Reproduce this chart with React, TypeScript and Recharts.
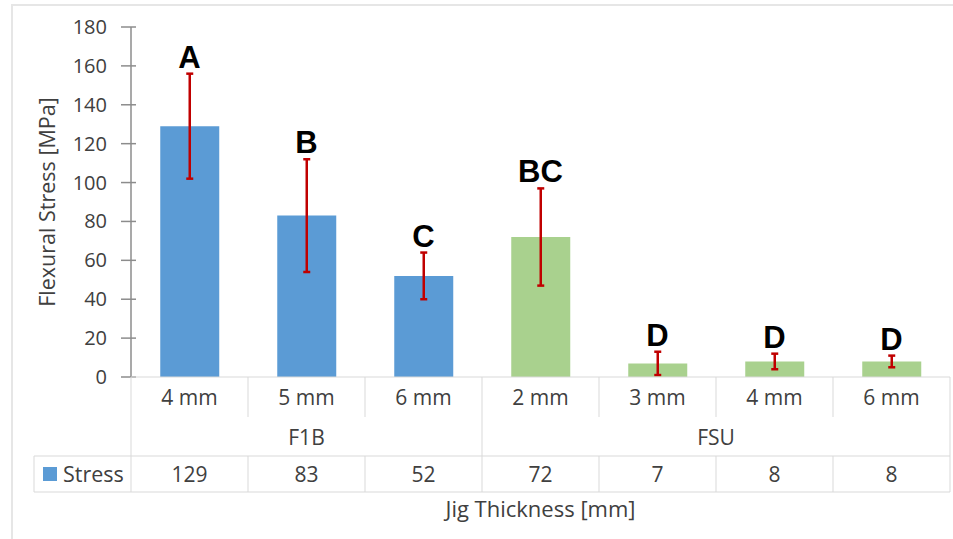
import { ComposedChart, Bar, Cell, Line, XAxis, YAxis, ErrorBar, LabelList } from 'recharts'

const thickness = ['4 mm', '5 mm', '6 mm', '2 mm', '3 mm', '4 mm', '6 mm']
const groups = ['F1B', 'F1B', 'F1B', 'FSU', 'FSU', 'FSU', 'FSU']
const stress = [129, 83, 52, 72, 7, 8, 8]
const stressSd = [27, 29, 12, 25, 6, 4, 3]
const letters = ['A', 'B', 'C', 'BC', 'D', 'D', 'D']
const yTicks = [0, 20, 40, 60, 80, 100, 120, 140, 160, 180]

const groupColors: Record<string, string> = { F1B: '#5B9BD5', FSU: '#A9D18E' }

const W = 953
const H = 539
const AXIS_W = 131
const RIGHT = 3
const COL = (W - AXIS_W - RIGHT) / thickness.length
const CAT_H = 40
const GRP_H = 39
const VAL_H = 36
const GRID = '#D9D9D9'
const TEXT = '#404040'
const FONT = '"Open Sans", sans-serif'

const data = thickness.map((t, i) => ({
  thick: t,
  group: groups[i],
  stress: stress[i],
  sd: stressSd[i],
  top: stress[i] + stressSd[i],
  letter: letters[i],
}))

function YTick({ x, y, payload }: any) {
  return (
    <g>
      <line x1={x - 10} x2={x + 5} y1={y} y2={y} stroke="#8C8C8C" strokeWidth={1.5} />
      <text x={x - 24} y={y} dy="0.35em" textAnchor="end" fill={TEXT} fontSize={20} fontFamily={FONT}>
        {payload.value}
      </text>
    </g>
  )
}

function CatTick({ x, y, index, payload }: any) {
  const left = x - COL / 2
  const groupStart = index > 0 && groups[index] !== groups[index - 1]
  return (
    <g>
      <line x1={left} x2={left + COL} y1={y} y2={y} stroke={GRID} />
      {index > 0 && !groupStart && <line x1={left} x2={left} y1={y} y2={y + CAT_H} stroke={GRID} />}
      <text x={x} y={y + 28} textAnchor="middle" fill={TEXT} fontSize={21} fontFamily={FONT}>
        {payload.value}
      </text>
    </g>
  )
}

function GroupTick({ x, y, index, payload }: any) {
  if (index > 0 && groups[index] === groups[index - 1]) return null
  const count = groups.filter((g) => g === groups[index]).length
  const left = x - COL / 2
  return (
    <g>
      {index > 0 && (
        <line x1={left} x2={left} y1={y - CAT_H} y2={y + GRP_H + VAL_H} stroke={GRID} />
      )}
      <text
        x={x + ((count - 1) / 2) * COL}
        y={y + 28}
        textAnchor="middle"
        fill={TEXT}
        fontSize={21}
        fontFamily={FONT}
      >
        {payload.value}
      </text>
    </g>
  )
}

function ValueTick({ x, y, index, payload }: any) {
  const left = x - COL / 2
  const groupStart = index > 0 && groups[index] !== groups[index - 1]
  const top = y - CAT_H - GRP_H
  return (
    <g>
      <line x1={left} x2={left + COL} y1={y} y2={y} stroke={GRID} />
      <line x1={left} x2={left + COL} y1={y + VAL_H} y2={y + VAL_H} stroke={GRID} />
      {index > 0 && !groupStart && <line x1={left} x2={left} y1={y} y2={y + VAL_H} stroke={GRID} />}
      {index === 0 && (
        <g>
          <line x1={left} x2={left} y1={top} y2={y + VAL_H} stroke={GRID} />
          <line x1={34} x2={left} y1={y} y2={y} stroke={GRID} />
          <line x1={34} x2={left} y1={y + VAL_H} y2={y + VAL_H} stroke={GRID} />
          <line x1={34} x2={34} y1={y} y2={y + VAL_H} stroke={GRID} />
          <rect x={43} y={y + 11} width={14} height={14} fill={groupColors.F1B} />
          <text x={63} y={y + 26} fill={TEXT} fontSize={21.5} fontFamily={FONT}>
            Stress
          </text>
        </g>
      )}
      {index === thickness.length - 1 && (
        <line x1={left + COL} x2={left + COL} y1={top} y2={y + VAL_H} stroke={GRID} />
      )}
      <text x={x} y={y + 26} textAnchor="middle" fill={TEXT} fontSize={21} fontFamily={FONT}>
        {payload.value}
      </text>
    </g>
  )
}

function YTitle({ viewBox }: any) {
  const cy = viewBox.y + viewBox.height / 2
  return (
    <text
      x={46}
      y={cy}
      transform={`rotate(-90, 46, ${cy})`}
      textAnchor="middle"
      dominantBaseline="central"
      fill={TEXT}
      fontSize={21.5}
      fontFamily={FONT}
    >
      Flexural Stress [MPa]
    </text>
  )
}

export default function App() {
  return (
    <div style={{ position: 'fixed', left: 0, top: 0, width: W, height: H, background: '#fff' }}>
      <div
        style={{
          position: 'absolute',
          left: 11,
          top: 4,
          right: 0,
          bottom: 0,
          borderTop: '2px solid #E6E6E6',
          borderLeft: '2px solid #E6E6E6',
        }}
      />
      <ComposedChart
        width={W}
        height={H}
        data={data}
        margin={{ top: 27, right: RIGHT, left: 0, bottom: 47 }}
        barCategoryGap="25%"
        style={{ position: 'absolute', left: 0, top: 0 }}
      >
        <YAxis
          domain={[0, 180]}
          ticks={yTicks}
          width={AXIS_W}
          tickSize={0}
          tickMargin={0}
          tick={<YTick />}
          tickLine={false}
          axisLine={{ stroke: '#8C8C8C', strokeWidth: 1.5 }}
          interval={0}
          label={<YTitle />}
        />
        <XAxis
          xAxisId="cat"
          dataKey="thick"
          height={CAT_H}
          tickSize={0}
          tickMargin={0}
          tickLine={false}
          axisLine={false}
          interval={0}
          tick={<CatTick />}
        />
        <XAxis
          xAxisId="grp"
          dataKey="group"
          height={GRP_H}
          tickSize={0}
          tickMargin={0}
          tickLine={false}
          axisLine={false}
          interval={0}
          tick={<GroupTick />}
        />
        <XAxis
          xAxisId="val"
          dataKey="stress"
          height={VAL_H}
          tickSize={0}
          tickMargin={0}
          tickLine={false}
          axisLine={false}
          interval={0}
          tick={<ValueTick />}
          label={{
            value: 'Jig Thickness [mm]',
            position: 'bottom',
            offset: 9,
            fill: TEXT,
            fontSize: 22,
            fontFamily: FONT,
          }}
        />
        <Bar xAxisId="cat" dataKey="stress" isAnimationActive={false}>
          {data.map((d) => (
            <Cell key={d.thick + d.group} fill={groupColors[d.group]} />
          ))}
          <ErrorBar dataKey="sd" direction="y" width={3.5} stroke="#C00000" strokeWidth={2.5} />
        </Bar>
        <Line
          xAxisId="cat"
          dataKey="top"
          stroke="none"
          dot={false}
          activeDot={false}
          isAnimationActive={false}
        >
          <LabelList
            dataKey="letter"
            position="top"
            offset={6}
            fill="#000"
            fontSize={31}
            fontWeight="bold"
            fontFamily='"Liberation Sans", Arial, sans-serif'
          />
        </Line>
      </ComposedChart>
    </div>
  )
}
